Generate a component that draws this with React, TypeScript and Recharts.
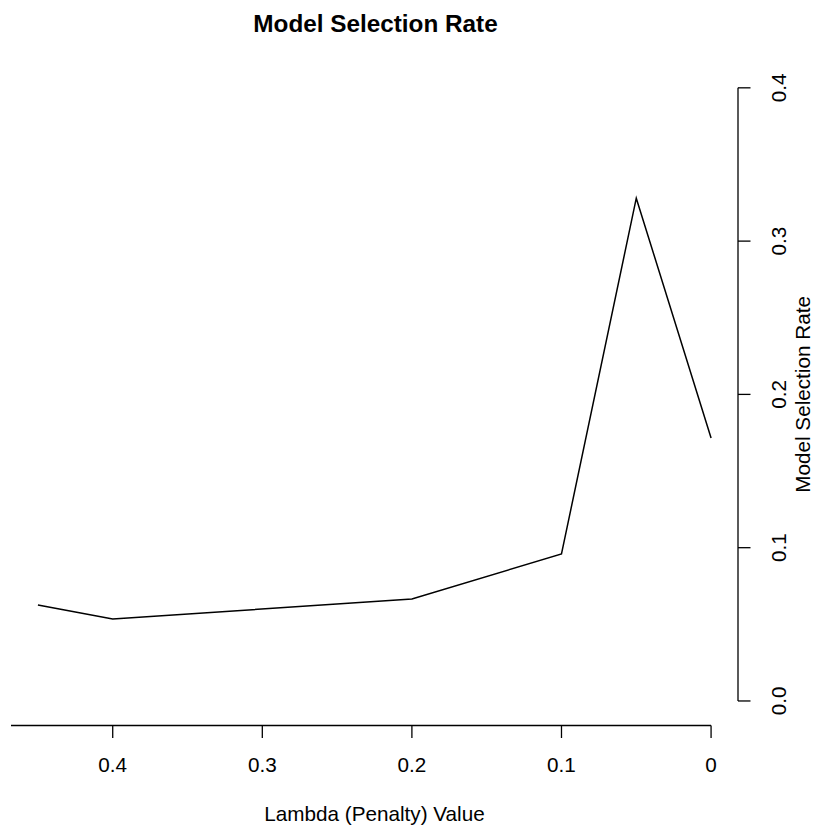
import React from "react"
import { LineChart, Line, XAxis, YAxis, ReferenceLine, Label } from "recharts"

const lambdas = [0.45, 0.4, 0.2, 0.1, 0.05, 0]
const rates = [0.0626, 0.0535, 0.0665, 0.0959, 0.328, 0.1716]
const xTicks = [0.4, 0.3, 0.2, 0.1, 0]
const yTicks = [0, 0.1, 0.2, 0.3, 0.4]

const xDomain: [number, number] = [-0.018, 0.468]
const yDomain: [number, number] = [-0.016, 0.416]

const FONT = "'Liberation Sans', Arial, Helvetica, sans-serif"
const data = lambdas.map((l, i) => ({ lambda: l, rate: rates[i] }))

function XTick({ x, y, payload }: any) {
  return (
    <g>
      <line x1={x} y1={y} x2={x} y2={y + 12.5} stroke="#000" strokeWidth={1.3} />
      <text x={x} y={y + 46.5} textAnchor="middle" fontSize={20.7} fontFamily={FONT} fill="#000">
        {String(payload.value)}
      </text>
    </g>
  )
}

function YTick({ x, y, payload }: any) {
  const tx = x + 48
  return (
    <g>
      <line x1={x} y1={y} x2={x + 12.5} y2={y} stroke="#000" strokeWidth={1.3} />
      <text
        x={tx}
        y={y}
        transform={`rotate(-90 ${tx} ${y})`}
        textAnchor="middle"
        fontSize={20.7}
        fontFamily={FONT}
        fill="#000"
      >
        {payload.value.toFixed(1)}
      </text>
    </g>
  )
}

export default function App() {
  return (
    <div style={{ position: "absolute", left: 0, top: 0, background: "#fff" }}>
      <LineChart
        width={814}
        height={830}
        data={data}
        margin={{ top: 63.3, left: 11, right: 16, bottom: 44.5 }}
      >
        <XAxis
          dataKey="lambda"
          type="number"
          domain={xDomain}
          allowDataOverflow
          reversed
          ticks={xTicks}
          interval={0}
          height={60}
          axisLine={false}
          tickLine={false}
          tickSize={0}
          tickMargin={0}
          tick={<XTick />}
        >
          <Label
            content={({ viewBox }: any) => (
              <g>
                <text
                  x={viewBox.x + viewBox.width / 2}
                  y={viewBox.y + 95.5}
                  textAnchor="middle"
                  fontSize={20.7}
                  fontFamily={FONT}
                  fill="#000"
                >
                  Lambda (Penalty) Value
                </text>
                <text
                  x={viewBox.x + viewBox.width / 2 + 1}
                  y={32}
                  textAnchor="middle"
                  fontSize={24.3}
                  fontWeight="bold"
                  fontFamily={FONT}
                  fill="#000"
                >
                  Model Selection Rate
                </text>
              </g>
            )}
          />
        </XAxis>
        <YAxis
          type="number"
          orientation="right"
          domain={yDomain}
          allowDataOverflow
          ticks={yTicks}
          interval={0}
          width={60}
          axisLine={false}
          tickLine={false}
          tickSize={0}
          tickMargin={0}
          tick={<YTick />}
        >
          <Label
            content={({ viewBox }: any) => {
              const lx = viewBox.x + 72.5
              const ly = viewBox.y + viewBox.height / 2
              return (
                <text
                  x={lx}
                  y={ly}
                  transform={`rotate(-90 ${lx} ${ly})`}
                  textAnchor="middle"
                  fontSize={20.7}
                  fontFamily={FONT}
                  fill="#000"
                >
                  Model Selection Rate
                </text>
              )
            }}
          />
        </YAxis>
        <ReferenceLine
          segment={[
            { x: xDomain[1], y: yDomain[0] },
            { x: 0, y: yDomain[0] },
          ]}
          stroke="#000"
          strokeWidth={1.3}
          ifOverflow="visible"
        />
        <ReferenceLine
          segment={[
            { x: xDomain[0], y: 0 },
            { x: xDomain[0], y: 0.4 },
          ]}
          stroke="#000"
          strokeWidth={1.3}
          ifOverflow="visible"
        />
        <Line
          type="linear"
          dataKey="rate"
          stroke="#000"
          strokeWidth={1.5}
          dot={false}
          isAnimationActive={false}
        />
      </LineChart>
    </div>
  )
}
